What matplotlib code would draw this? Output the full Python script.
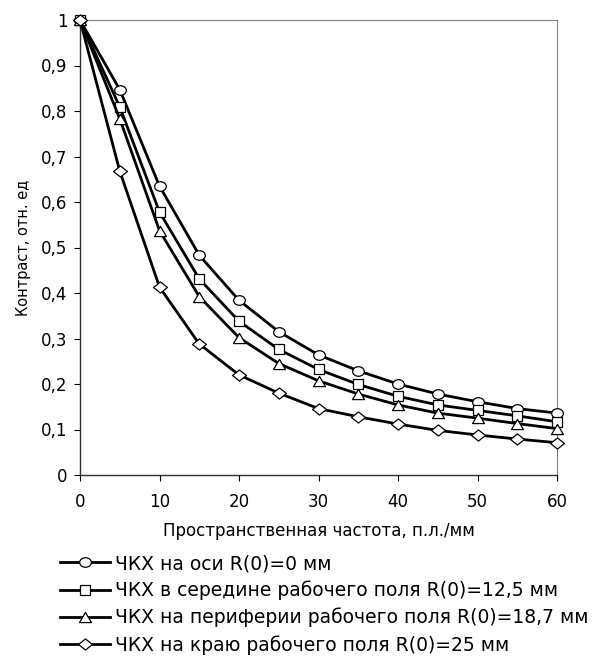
import matplotlib
matplotlib.use("Agg")
import matplotlib.pyplot as plt
from matplotlib.ticker import FuncFormatter
from matplotlib.path import Path
from matplotlib.transforms import Affine2D

plt.rcParams['font.family'] = ['DejaVu Sans']

freq = [0, 5, 10, 15, 20, 25, 30, 35, 40, 45, 50, 55, 60]
mtf_axis = [1.0, 0.847, 0.635, 0.483, 0.384, 0.315, 0.264, 0.229, 0.200, 0.178, 0.161, 0.146, 0.136]
mtf_middle = [1.0, 0.809, 0.578, 0.431, 0.338, 0.276, 0.232, 0.199, 0.173, 0.154, 0.142, 0.130, 0.117]
mtf_periph = [1.0, 0.783, 0.537, 0.392, 0.302, 0.245, 0.207, 0.178, 0.154, 0.136, 0.125, 0.113, 0.102]
mtf_edge = [1.0, 0.668, 0.413, 0.288, 0.220, 0.180, 0.146, 0.128, 0.112, 0.098, 0.088, 0.079, 0.071]

labels = [
    "ЧКХ на оси R(0)=0 мм",
    "ЧКХ в середине рабочего поля R(0)=12,5 мм",
    "ЧКХ на периферии рабочего поля R(0)=18,7 мм",
    "ЧКХ на краю рабочего поля R(0)=25 мм",
]

# slightly wide marker shapes (the reference markers are a bit wider than tall)
circ = Path.unit_circle()
m_circle = Path(Affine2D().scale(1.0, 0.82).transform(circ.vertices), circ.codes)
m_square = 's'
m_tri = Path([(0, 0.85), (-1, -0.85), (1, -0.85), (0, 0.85)],
             [Path.MOVETO, Path.LINETO, Path.LINETO, Path.CLOSEPOLY])
m_diam = Path([(0, 0.8), (-1, 0), (0, -0.8), (1, 0), (0, 0.8)],
              [Path.MOVETO, Path.LINETO, Path.LINETO, Path.LINETO, Path.CLOSEPOLY])

markers = [m_circle, m_square, m_tri, m_diam]
msizes = [8.4, 7.6, 8.6, 10.0]
series = [mtf_axis, mtf_middle, mtf_periph, mtf_edge]

fig = plt.figure(figsize=(5.97, 6.65), dpi=100)
ax = fig.add_axes([80/597, 1-475/665, (557-80)/597, (475-20)/665])

handles = []
for ys, m, ms, lab in zip(series, markers, msizes, labels):
    h, = ax.plot(freq, ys, color='black', linewidth=2.0, marker=m, markersize=ms,
                 markerfacecolor='white', markeredgecolor='black', markeredgewidth=0.9,
                 clip_on=False, label=lab, zorder=3)
    handles.append(h)

ax.set_xlim(0, 60)
ax.set_ylim(0, 1)
ax.set_xticks(range(0, 61, 10))
ax.set_yticks([i/10 for i in range(11)])
ax.yaxis.set_major_formatter(FuncFormatter(lambda v, p: ("%g" % round(v, 1)).replace('.', ',')))
ax.tick_params(direction='out', length=4, width=0.8, labelsize=12, colors='black')
ax.tick_params(axis='x', pad=9)
ax.tick_params(axis='y', pad=5)
for s in ['top', 'right']:
    ax.spines[s].set_color('#808080')
    ax.spines[s].set_linewidth(0.8)
for s in ['left', 'bottom']:
    ax.spines[s].set_color('#303030')
    ax.spines[s].set_linewidth(1.0)

ax.set_xlabel("Пространственная частота, п.л./мм", fontsize=12, labelpad=8)
ax.set_ylabel("Контраст, отн. ед", fontsize=10.5, labelpad=7)

fig.legend(handles=handles, labels=labels, loc='upper left',
           bbox_to_anchor=(60/597, 1-554/665), frameon=False, fontsize=13.5,
           handlelength=2.67, handletextpad=0.27, labelspacing=0.4, borderpad=0,
           borderaxespad=0)

fig.savefig("out.png", dpi=100)
